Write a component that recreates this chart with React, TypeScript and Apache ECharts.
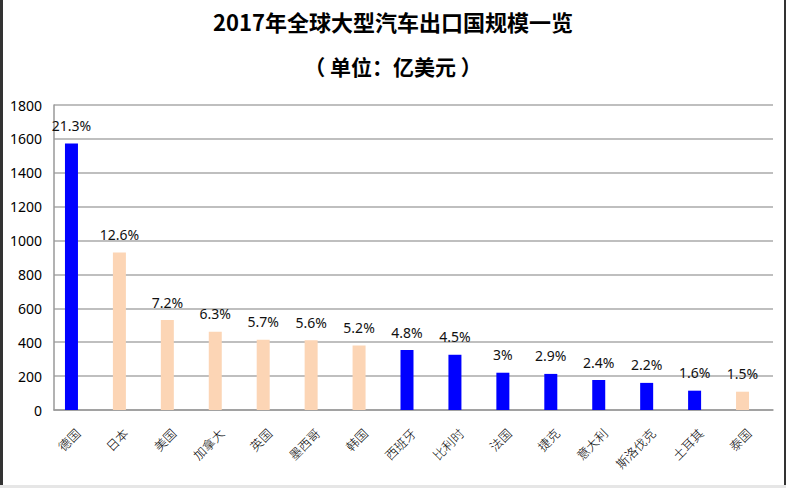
import React, { useEffect, useRef } from "react";
import * as echarts from "echarts";

const categories = ["德国", "日本", "美国", "加拿大", "英国", "墨西哥", "韩国", "西班牙", "比利时", "法国", "捷克", "意大利", "斯洛伐克", "土耳其", "泰国"];
const values = [1573, 930, 531, 462, 415, 412, 380, 354, 326, 220, 213, 177, 160, 114, 108];
const shares = ["21.3%", "12.6%", "7.2%", "6.3%", "5.7%", "5.6%", "5.2%", "4.8%", "4.5%", "3%", "2.9%", "2.4%", "2.2%", "1.6%", "1.5%"];
const highlighted = [true, false, false, false, false, false, false, true, true, true, true, true, true, true, false];
const yTicks = [0, 200, 400, 600, 800, 1000, 1200, 1400, 1600, 1800];

const BLUE = "#0000FF";
const PEACH = "#FCD5B5";

export default function App() {
  const ref = useRef<HTMLDivElement>(null);
  useEffect(() => {
    if (!ref.current) return;
    const chart = echarts.init(ref.current, undefined, { renderer: "svg" });
    chart.setOption({
      animation: false,
      backgroundColor: "#ffffff",
      title: [
        {
          text: "2017年全球大型汽车出口国规模一览",
          left: "center",
          top: 5,
          textStyle: { fontSize: 22, fontWeight: "bold", color: "#000", fontFamily: "Noto Sans CJK SC" },
        },
        {
          text: "（ 单位：亿美元 ）",
          left: "center",
          top: 50,
          textStyle: { fontSize: 21, fontWeight: "bold", color: "#000", fontFamily: "Noto Sans CJK SC" },
        },
      ],
      graphic: [
        { type: "rect", left: 0, top: 0, shape: { width: 3, height: 488 }, style: { fill: "#333" } },
        { type: "rect", right: 0, top: 0, shape: { width: 2, height: 488 }, style: { fill: "#333" } },
        { type: "rect", left: 0, bottom: 0, shape: { width: 786, height: 3 }, style: { fill: "#e6e6e6" } },
      ],
      grid: { left: 54, right: 13, top: 105, bottom: 78 },
      xAxis: {
        type: "category",
        data: categories,
        axisLine: { show: true, lineStyle: { color: "#999", width: 1.5 } },
        axisTick: { show: false },
        axisLabel: {
          rotate: 45,
          fontSize: 12.5,
          color: "#000",
          margin: 21,
          fontFamily: "Noto Sans CJK SC",
          fontWeight: 300,
          interval: 0,
        },
      },
      yAxis: {
        type: "value",
        min: yTicks[0],
        max: yTicks[yTicks.length - 1],
        interval: yTicks[1] - yTicks[0],
        axisLine: { show: true, lineStyle: { color: "#999", width: 1.5 } },
        axisTick: { show: false },
        axisLabel: { fontSize: 14, color: "#000", margin: 12, fontFamily: "Noto Sans", formatter: (v: number) => String(v) },
        splitLine: { lineStyle: { color: "#aaa", width: 1.5 } },
      },
      series: [
        {
          type: "bar",
          barWidth: 13,
          barGap: "0%",
          data: values.map((v, i) => ({
            value: v,
            itemStyle: { color: highlighted[i] ? BLUE : PEACH },
          })),
          label: {
            show: true,
            position: "top",
            distance: 11,
            fontSize: 14,
            color: "#111",
            fontFamily: "Noto Sans",
            formatter: (p: any) => shares[p.dataIndex],
          },
        },
        {
          type: "bar",
          barWidth: 13,
          barGap: "0%",
          silent: true,
          data: values.map(() => null),
        },
      ],
    });
    return () => chart.dispose();
  }, []);
  return (
    <div
      ref={ref}
      style={{ position: "fixed", left: 0, top: 0, width: 786, height: 488 }}
    />
  );
}
